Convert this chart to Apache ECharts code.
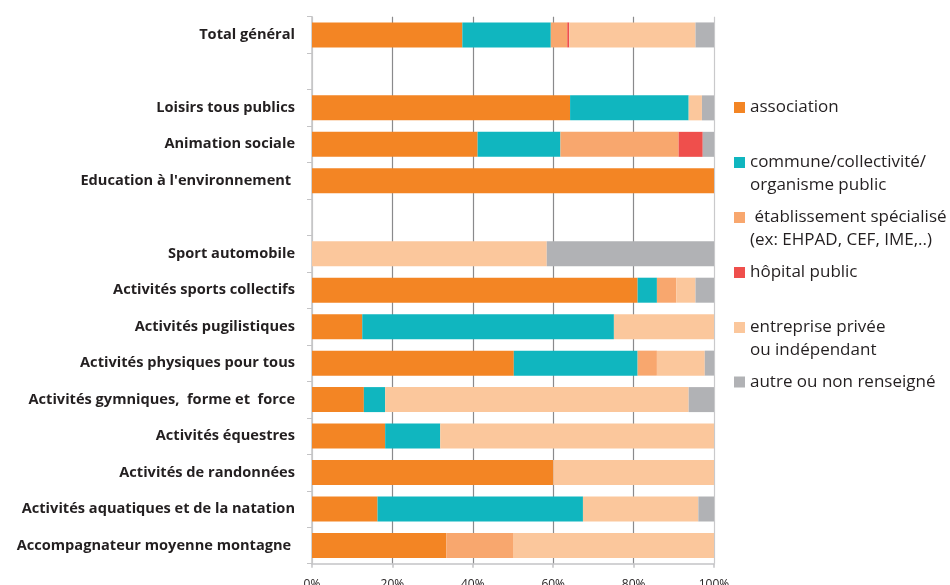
<!DOCTYPE html>
<html><head><meta charset="utf-8">
<script src="https://cdn.jsdelivr.net/npm/echarts@6/dist/echarts.min.js"></script>
<style>html,body{margin:0;padding:0;background:#fff}#c{width:950px;height:585px}</style>
</head><body><div id="c"></div>
<script>
const categories = ['Total général', ' ', 'Loisirs tous publics', 'Animation sociale', "Education à l'environnement ", '  ',
  'Sport automobile', 'Activités sports collectifs', 'Activités pugilistiques', 'Activités physiques pour tous',
  'Activités gymniques,  forme et  force', 'Activités équestres', 'Activités de randonnées',
  'Activités aquatiques et de la natation', 'Accompagnateur moyenne montagne '];
const association   = [37.4, null, 64.2, 41.2, 100, null, 0, 81.0, 12.5, 50.2, 12.9, 18.2, 60.0, 16.3, 33.4];
const commune       = [22.0, null, 29.5, 20.6, 0, null, 0, 4.8, 62.6, 30.8, 5.3, 13.7, 0, 51.1, 0];
const etablissement = [4.1, null, 0, 29.4, 0, null, 0, 4.8, 0, 4.8, 0, 0, 0, 0, 16.6];
const hopital       = [0.5, null, 0, 6.0, 0, null, 0, 0, 0, 0, 0, 0, 0, 0, 0];
const entreprise    = [31.4, null, 3.3, 0, 0, null, 58.4, 4.8, 24.9, 11.9, 75.5, 68.1, 40.0, 28.7, 50.0];
const autre         = [4.6, null, 3.0, 2.8, 0, null, 41.6, 4.6, 0, 2.3, 6.3, 0, 0, 3.9, 0];
const seriesNames = ['association', 'commune/collectivité/organisme public', ' établissement spécialisé (ex: EHPAD, CEF, IME,..)',
  'hôpital public', 'entreprise privée ou indépendant', 'autre ou non renseigné'];
const legendLabels = ['association', 'commune/collectivité/\norganisme public', ' établissement spécialisé\n(ex: EHPAD, CEF, IME,..)',
  'hôpital public', 'entreprise privée\nou indépendant', 'autre ou non renseigné'];
const xTicks = ['0%', '20%', '40%', '60%', '80%', '100%'];

const colors = ['#F38524', '#10B6BF', '#F8A76E', '#EF4F4C', '#FBC79C', '#B1B2B5'];
const values = [association, commune, etablissement, hopital, entreprise, autre];

const chart = echarts.init(document.getElementById('c'));
const L = 23;
const centers = [107.5, 162.5, 217.5, 272.5, 327.5, 382];
const legends = seriesNames.map((n, i) => {
  const two = legendLabels[i].indexOf('\n') >= 0;
  return {
    data: [n], left: 734, top: two ? centers[i] - 34.5 : centers[i] - 11.5,
    padding: 0, itemWidth: 11, itemHeight: 11, itemGap: 0, icon: 'rect',
    formatter: () => two ? '\n' + legendLabels[i] : legendLabels[i],
    textStyle: { fontFamily: 'Open Sans', fontSize: 17, lineHeight: L, color: '#231F20' }
  };
});
chart.setOption({
  animation: false,
  legend: legends,
  grid: { left: 312, right: 236, top: 16.7, bottom: 21.3, containLabel: false, outerBoundsMode: 'none' },
  xAxis: {
    type: 'value', min: 0, max: 100, interval: 20,
    axisLine: { show: true, lineStyle: { color: '#C4C4C6', width: 1.5 } },
    axisTick: { show: true, length: 4, lineStyle: { color: '#C4C4C6', width: 1.5 } },
    axisLabel: { margin: 15, fontFamily: 'Open Sans', fontSize: 12, color: '#231F20', formatter: v => xTicks[Math.round(v / 20)] },
    splitLine: { show: true, lineStyle: { color: ['#C9C9CB', '#8A8A8C', '#8A8A8C', '#8A8A8C', '#8A8A8C', '#C9C9CB'], width: 1.2 } }
  },
  yAxis: {
    type: 'category', data: categories, inverse: true,
    axisLine: { show: true, lineStyle: { color: '#C4C4C6', width: 1.5 } },
    axisTick: { show: true, length: 5, lineStyle: { color: '#C4C4C6' } },
    axisLabel: { margin: 17, fontFamily: 'Open Sans', fontWeight: 'bold', fontSize: 14.6, color: '#231F20' }
  },
  series: seriesNames.map((n, i) => ({
    name: n, type: 'bar', stack: 'total', data: values[i], barWidth: 25,
    itemStyle: { color: colors[i] }
  }))
});
</script></body></html>
